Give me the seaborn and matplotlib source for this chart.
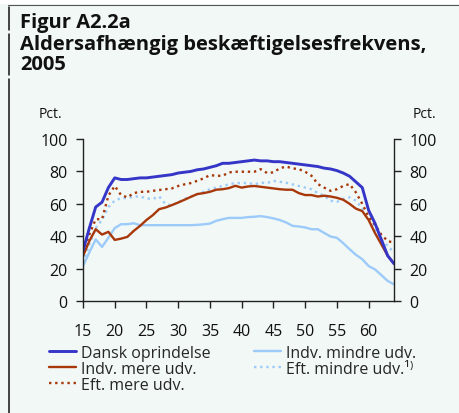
import numpy as np
import pandas as pd
import matplotlib
matplotlib.use("Agg")
import matplotlib.pyplot as plt
from matplotlib.lines import Line2D
import seaborn as sns

# Data (age 15-64, employment rate in pct.)
ages = list(range(15, 65))
dansk = [31, 45, 58, 61, 70, 76, 75, 75, 75.5, 76,
         76, 76.5, 77, 77.5, 78, 79, 79.5, 80, 81, 81.5,
         82.5, 83.5, 85, 85, 85.5, 86, 86.5, 87, 86.5, 86.5,
         86, 86, 85.5, 85, 84.5, 84, 83.5, 83, 82, 81.5,
         80.5, 79, 77, 73.5, 70, 56, 48, 38, 28, 23]
indv_mindre = [21.6, 30, 38, 33.4, 39, 45, 47.4, 47.4, 48, 46.8,
               46.8, 46.8, 46.8, 46.8, 46.8, 46.8, 46.8, 46.8, 47, 47.3,
               47.8, 49.5, 50.5, 51.3, 51.3, 51.3, 51.8, 52, 52.4, 51.8,
               51, 50, 48.5, 46.4, 46, 45.4, 44.3, 44.3, 42, 39.8,
               39, 35.7, 32, 28.5, 25.8, 21.6, 19.5, 16, 12.4, 10.3]
indv_mere = [27.8, 37, 44.3, 41, 42.7, 37.7, 38.5, 39.6, 43.3, 46.4,
             50, 53, 56.7, 57.7, 59.2, 60.8, 62.5, 64.3, 66, 66.6,
             67.4, 68.7, 69, 69.7, 71.1, 70, 70.7, 71, 70.5, 70,
             69.5, 69, 68.7, 68.7, 66.6, 65.4, 65.4, 64.5, 65, 64.5,
             63.7, 62.5, 60, 57, 55.5, 50, 42, 35, 28, 23]
eft_mindre = [23.7, 35, 45, 50, 58, 62, 63.5, 63.5, 64.5, 64.5,
              63.3, 63, 64.5, 59.8, 59, 61, 63, 64.5, 66, 67.4,
              69, 70, 71, 72, 72.8, 72.8, 72.8, 72, 73, 72.8,
              74.2, 73.6, 73, 72, 71, 70, 69, 66.6, 65, 61.9,
              61.2, 63, 64, 62, 57, 51, 44, 38, 34, 30]
eft_mere = [30, 41, 50.5, 50.5, 65, 71, 65.4, 64, 66.6, 67.4,
            67.4, 68, 68.5, 69, 69.5, 71, 72, 72.8, 74.2, 75.7,
            77.7, 77.3, 77.3, 79.4, 79.8, 79.8, 79.8, 79.8, 81.4, 79,
            79.4, 81.9, 83, 81.9, 81.4, 79.8, 77.3, 72.2, 70, 68,
            69, 71, 72.2, 67, 60, 52, 47, 41, 37, 36]

labels = ["Dansk oprindelse", "Indv. mere udv.", "Eft. mere udv.",
          "Indv. mindre udv.", "Eft. mindre udv.\u00b9\u207e"]
series = [dansk, indv_mere, eft_mere, indv_mindre, eft_mindre]

BG = "#F1F8F5"
W, H = 459, 414

sns.set_theme(style="ticks")
plt.rcParams["font.family"] = ["Open Sans", "DejaVu Sans"]
plt.rcParams["axes.edgecolor"] = "#222222"

fig = plt.figure(figsize=(W / 100, H / 100), dpi=100, facecolor=BG)
ax = fig.add_axes([83 / W, 1 - 302 / H, 311 / W, 162 / H])
ax.set_facecolor(BG)

df = pd.DataFrame({"age": ages, **{lab: s for lab, s in zip(labels, series)}})
styles = {
    labels[0]: dict(color="#3535C8", lw=2.1, ls="-"),
    labels[1]: dict(color="#A8380A", lw=1.7, ls="-"),
    labels[2]: dict(color="#A8380A", lw=1.7, ls=(0, (1, 1.6))),
    labels[3]: dict(color="#9CCBFA", lw=1.7, ls="-"),
    labels[4]: dict(color="#9CCBFA", lw=1.7, ls=(0, (1, 1.6))),
}
# draw light lines first so the dark blue sits on top
for lab in [labels[3], labels[4], labels[1], labels[2], labels[0]]:
    st = styles[lab]
    sns.lineplot(data=df, x="age", y=lab, ax=ax, color=st["color"],
                 linewidth=st["lw"], linestyle=st["ls"], legend=False)

for ln in ax.get_lines():
    ln.set_dash_capstyle("butt")
    ln.set_solid_joinstyle("round")

ax.set_xlim(15, 64)
ax.set_ylim(0, 100)
ax.set_xticks(range(15, 61, 5))
ax.set_yticks(range(0, 101, 20))
ax.set_xlabel("")
ax.set_ylabel("")
sns.despine(ax=ax, top=True, right=False)
for sp in ["left", "right", "bottom"]:
    ax.spines[sp].set_linewidth(1.0)
ax.tick_params(axis="both", direction="out", length=5, width=1.0,
               labelsize=11.5, colors="#222222", labelcolor="#111111")
ax.tick_params(axis="x", pad=11)
ax.tick_params(axis="y", right=True, labelright=True, pad=6)

handles = [Line2D([], [], **{"color": styles[l]["color"], "lw": styles[l]["lw"],
                             "ls": styles[l]["ls"]}) for l in labels]
for h in handles:
    h.set_dash_capstyle("butt")
leg = fig.legend(handles, labels, ncol=2, loc="upper left",
                 bbox_to_anchor=(49 / W, 1 - 346 / H), frameon=False,
                 fontsize=11.5, handlelength=1.7, handletextpad=0.3,
                 labelspacing=0.0, columnspacing=2.7, borderaxespad=0,
                 borderpad=0)

# titles and unit labels
title_kw = dict(fontsize=14.5, fontweight="bold", color="#111111", va="baseline")
fig.text(20 / W, 1 - 28 / H, "Figur A2.2a", **title_kw)
fig.text(20 / W, 1 - 50 / H, "Aldersafhængig beskæftigelsesfrekvens,", **title_kw)
fig.text(20 / W, 1 - 70 / H, "2005", **title_kw)
fig.text(50 / W, 1 - 118 / H, "Pct.", fontsize=10, color="#111111",
         ha="center", va="baseline")
fig.text(424 / W, 1 - 118 / H, "Pct.", fontsize=10, color="#111111",
         ha="center", va="baseline")

# white strip on top, frame line and the left rule
fig.patches.append(plt.Rectangle((0, 1 - 5 / H), 1, 5 / H, transform=fig.transFigure,
                                 facecolor="white", edgecolor="none"))
fig.lines.append(Line2D([8 / W, 1], [1 - 5.5 / H] * 2, transform=fig.transFigure,
                        color="#555555", lw=0.8))
for y0, y1 in [(8, 31), (35, 76), (80, 414)]:
    fig.lines.append(Line2D([8.5 / W] * 2, [1 - y0 / H, 1 - y1 / H],
                            transform=fig.transFigure, color="#111111", lw=1.1))

fig.savefig("out.png", dpi=100, facecolor=BG)
